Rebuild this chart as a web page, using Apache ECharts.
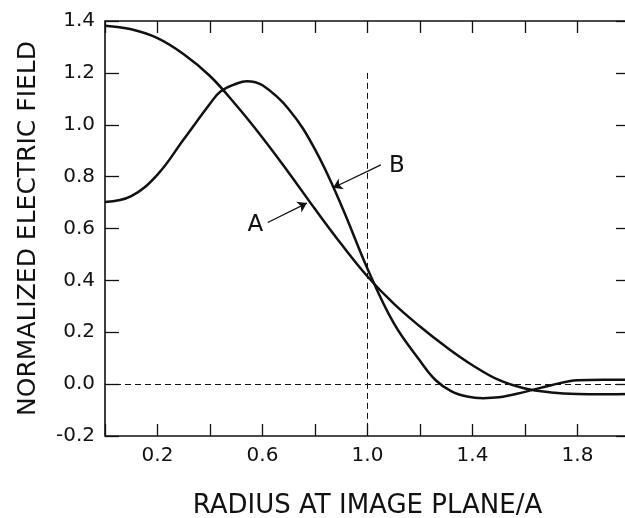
<!DOCTYPE html>
<html>
<head>
<meta charset="utf-8">
<script src="https://cdn.jsdelivr.net/npm/echarts@6/dist/echarts.min.js"></script>
<style>
    html, body { margin: 0; padding: 0; background: #fff; overflow: hidden; }
    /* the plot frame runs a few pixels past the right edge of the page, as in the scan */
    #wrap { position: relative; width: 625px; height: 518px; overflow: hidden; }
    #chart { position: absolute; left: 0; top: 0; width: 630px; height: 518px; }
</style>
</head>
<body>
<div id="wrap"><div id="chart"></div></div>
<script>
// curve A (starts at 1.38): radius at image plane / A, normalized field
var radiusA = [0, 0.1, 0.2, 0.3, 0.4, 0.5, 0.6, 0.7, 0.8, 0.9, 1.0,
    1.1, 1.2, 1.3, 1.4, 1.5, 1.6, 1.7, 1.8, 1.9, 2.0];
var fieldA = [1.382, 1.368, 1.334, 1.272, 1.188, 1.075, 0.950, 0.815, 0.675, 0.540, 0.415,
    0.310, 0.222, 0.143, 0.073, 0.016, -0.017, -0.032, -0.038, -0.039, -0.038];
// curve B (starts at 0.70)
var radiusB = [0, 0.1, 0.2, 0.3, 0.4, 0.44, 0.5, 0.54, 0.6, 0.7, 0.8, 0.9, 1.0,
    1.1, 1.2, 1.26, 1.32, 1.38, 1.44, 1.5, 1.6, 1.7, 1.8, 1.9, 2.0];
var fieldB = [0.702, 0.725, 0.808, 0.944, 1.081, 1.128, 1.158, 1.168, 1.152, 1.060, 0.905, 0.690, 0.445,
    0.235, 0.090, 0.015, -0.028, -0.048, -0.054, -0.051, -0.030, -0.004, 0.015, 0.017, 0.017];
var xLabelValues = [0.2, 0.6, 1.0, 1.4, 1.8];
var yLabelValues = [-0.2, 0, 0.2, 0.4, 0.6, 0.8, 1.0, 1.2, 1.4];

var font = 'DejaVu Sans, Liberation Sans, sans-serif';
var ink = '#111';

function pairs(xs, ys) {
    var out = [];
    for (var i = 0; i < xs.length; i++) {
        out.push([xs[i], ys[i]]);
    }
    return out;
}

function pickLabel(list) {
    return function(v) {
        for (var i = 0; i < list.length; i++) {
            if (Math.abs(list[i] - v) < 1e-6) {
                return v.toFixed(1);
            }
        }
        return '';
    };
}

var tickStyle = {color: ink, width: 1.3};

var chart = echarts.init(document.getElementById('chart'), null, {renderer: 'canvas'});
chart.setOption({
    backgroundColor: '#fff',
    animation: false,
    grid: {
        left: 105,
        right: 0,
        top: 21,
        bottom: 82,
        outerBoundsMode: 'none',
        show: true,
        borderColor: ink,
        borderWidth: 1.6
    },
    xAxis: [{
        type: 'value',
        min: 0,
        max: 2,
        interval: 0.2,
        name: 'RADIUS AT IMAGE PLANE/A',
        nameLocation: 'middle',
        nameGap: 57,
        nameTextStyle: {fontFamily: font, fontSize: 26, color: ink},
        axisLine: {show: false, onZero: false},
        axisTick: {inside: true, length: 12, lineStyle: tickStyle},
        axisLabel: {formatter: pickLabel(xLabelValues), fontFamily: font, fontSize: 20, color: ink, margin: 10},
        splitLine: {show: false}
    }, {
        type: 'value',
        position: 'top',
        min: 0,
        max: 2,
        interval: 0.2,
        axisLine: {show: false, onZero: false},
        axisTick: {inside: true, length: 12, lineStyle: tickStyle},
        axisLabel: {show: false},
        splitLine: {show: false}
    }],
    yAxis: [{
        type: 'value',
        min: -0.2,
        max: 1.4,
        interval: 0.2,
        name: 'NORMALIZED ELECTRIC FIELD',
        nameLocation: 'middle',
        nameGap: 64,
        nameTextStyle: {fontFamily: font, fontSize: 25, color: ink},
        axisLine: {show: false, onZero: false},
        axisTick: {inside: true, length: 14, lineStyle: tickStyle},
        axisLabel: {formatter: pickLabel(yLabelValues), fontFamily: font, fontSize: 20, color: ink, margin: 10},
        splitLine: {show: false}
    }, {
        type: 'value',
        position: 'right',
        min: -0.2,
        max: 1.4,
        interval: 0.2,
        axisLine: {show: false, onZero: false},
        axisTick: {inside: true, length: 14, lineStyle: tickStyle},
        axisLabel: {show: false},
        splitLine: {show: false}
    }],
    series: [{
        name: 'A',
        type: 'line',
        data: pairs(radiusA, fieldA),
        smooth: 0.4,
        showSymbol: false,
        lineStyle: {color: ink, width: 2.5},
        markLine: {
            silent: true,
            symbol: ['none', 'none'],
            label: {show: false},
            lineStyle: {color: ink, width: 1, type: [6, 4]},
            data: [
                [{coord: [0, 0]}, {coord: [2, 0]}],
                [{coord: [1, 1.2]}, {coord: [1, -0.2]}]
            ]
        },
        markPoint: {
            symbol: 'circle',
            symbolSize: 0,
            label: {show: true, formatter: 'A', fontFamily: font, fontSize: 23, color: ink},
            data: [{coord: [0.573, 0.615]}]
        }
    }, {
        name: 'B',
        type: 'line',
        data: pairs(radiusB, fieldB),
        smooth: 0.4,
        showSymbol: false,
        lineStyle: {color: ink, width: 2.5},
        markPoint: {
            symbol: 'circle',
            symbolSize: 0,
            label: {show: true, formatter: 'B', fontFamily: font, fontSize: 23, color: ink},
            data: [{coord: [1.112, 0.842]}]
        }
    }, {
        // annotation arrows
        type: 'line',
        data: [],
        markLine: {
            silent: true,
            symbol: ['none', 'arrow'],
            symbolSize: 9,
            label: {show: false},
            lineStyle: {color: ink, width: 1.3, type: 'solid', curveness: 0.12},
            data: [
                [{coord: [0.62, 0.623]}, {coord: [0.769, 0.698]}],
                [{coord: [1.051, 0.845]}, {coord: [0.869, 0.757]}]
            ]
        }
    }]
});
</script>
</body>
</html>
